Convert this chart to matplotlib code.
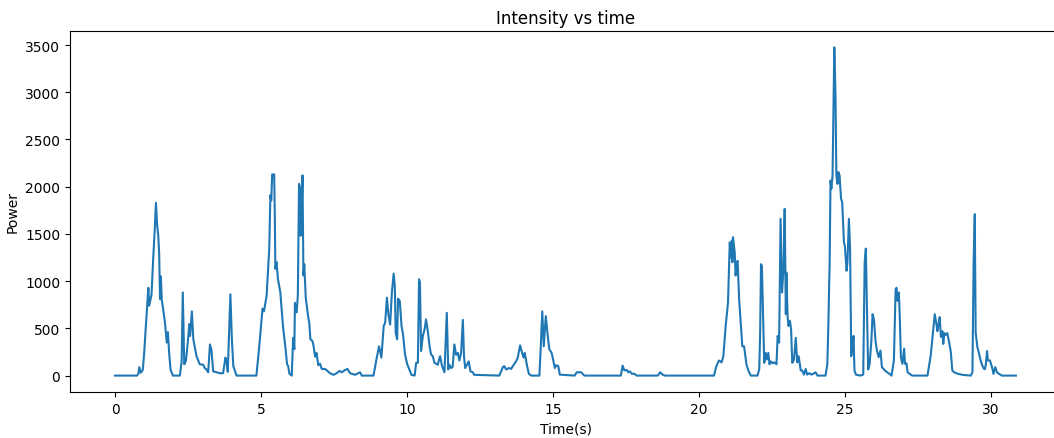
import matplotlib
matplotlib.use("Agg")
import matplotlib.pyplot as plt

time_s = [
    0.00, 0.75, 0.80, 0.83, 0.88, 0.95, 1.00, 1.05, 1.14, 1.17, 1.25, 1.30, 1.36, 1.40, 1.44, 1.48, 1.51,
    1.54, 1.57, 1.60, 1.65, 1.71, 1.77, 1.81, 1.85, 1.90, 1.98, 2.22, 2.28, 2.32, 2.37, 2.43, 2.51, 2.54,
    2.57, 2.63, 2.68, 2.79, 2.90, 3.02, 3.07, 3.13, 3.19, 3.25, 3.30, 3.36, 3.47, 3.59, 3.70, 3.78, 3.82,
    3.86, 3.95, 4.00, 4.05, 4.16, 4.84, 4.93, 5.05, 5.10, 5.19, 5.28, 5.32, 5.35, 5.38, 5.45, 5.47, 5.49,
    5.53, 5.58, 5.66, 5.75, 5.84, 5.89, 5.93, 5.97, 6.05, 6.10, 6.14, 6.16, 6.22, 6.26, 6.30, 6.34, 6.36,
    6.39, 6.42, 6.45, 6.48, 6.53, 6.61, 6.65, 6.69, 6.76, 6.80, 6.85, 6.90, 6.96, 7.02, 7.08, 7.19, 7.27,
    7.36, 7.48, 7.59, 7.68, 7.76, 7.88, 7.96, 8.05, 8.22, 8.39, 8.45, 8.85, 8.95, 9.04, 9.12, 9.20, 9.25,
    9.31, 9.36, 9.42, 9.48, 9.54, 9.58, 9.61, 9.66, 9.69, 9.75, 9.81, 9.86, 9.93, 10.00, 10.09, 10.15,
    10.26, 10.31, 10.37, 10.41, 10.44, 10.48, 10.54, 10.60, 10.65, 10.71, 10.77, 10.82, 10.88, 10.94,
    11.05, 11.13, 11.20, 11.28, 11.36, 11.41, 11.45, 11.51, 11.56, 11.62, 11.68, 11.74, 11.79, 11.85,
    11.91, 11.95, 11.99, 12.05, 12.11, 12.17, 12.25, 12.30, 13.16, 13.28, 13.33, 13.39, 13.50, 13.56,
    13.62, 13.73, 13.79, 13.87, 13.94, 13.99, 14.03, 14.11, 14.17, 14.25, 14.53, 14.57, 14.63, 14.68,
    14.75, 14.81, 14.87, 14.95, 15.00, 15.06, 15.11, 15.18, 15.23, 15.74, 15.81, 15.96, 16.07, 17.32,
    17.38, 17.44, 17.52, 17.57, 17.63, 17.70, 17.78, 17.86, 18.58, 18.67, 18.75, 18.83, 20.51, 20.59,
    20.68, 20.77, 20.83, 20.91, 20.99, 21.05, 21.09, 21.12, 21.14, 21.16, 21.22, 21.25, 21.29, 21.32,
    21.37, 21.43, 21.48, 21.54, 21.62, 21.69, 21.77, 22.00, 22.06, 22.09, 22.12, 22.15, 22.19, 22.23,
    22.28, 22.32, 22.37, 22.41, 22.46, 22.51, 22.57, 22.65, 22.69, 22.74, 22.79, 22.84, 22.89, 22.93,
    22.97, 22.99, 23.03, 23.06, 23.11, 23.15, 23.19, 23.25, 23.31, 23.36, 23.41, 23.48, 23.53, 23.59,
    23.65, 23.70, 23.78, 23.85, 23.93, 23.99, 24.05, 24.33, 24.39, 24.42, 24.47, 24.50, 24.53, 24.57,
    24.60, 24.63, 24.67, 24.70, 24.74, 24.77, 24.81, 24.86, 24.90, 24.96, 24.99, 25.05, 25.08, 25.13,
    25.17, 25.21, 25.24, 25.29, 25.32, 25.37, 25.51, 25.62, 25.67, 25.71, 25.75, 25.79, 25.84, 25.90,
    25.94, 25.99, 26.04, 26.09, 26.15, 26.21, 26.26, 26.36, 26.44, 26.52, 26.59, 26.67, 26.73, 26.76,
    26.80, 26.84, 26.87, 26.91, 26.96, 27.02, 27.05, 27.10, 27.14, 27.21, 27.30, 27.82, 27.93, 28.02,
    28.07, 28.13, 28.16, 28.21, 28.24, 28.28, 28.33, 28.36, 28.40, 28.44, 28.50, 28.56, 28.62, 28.67,
    28.73, 28.85, 29.02, 29.30, 29.36, 29.40, 29.44, 29.47, 29.53, 29.59, 29.64, 29.70, 29.76, 29.79,
    29.82, 29.86, 29.89, 29.96, 30.03, 30.08, 30.14, 30.20, 30.26, 30.37, 30.85,
]

power = [
    0, 0, 20, 90, 30, 60, 250, 500, 930, 740, 860, 1200, 1550, 1830, 1600, 1480, 1300,
    810, 1050, 800, 700, 560, 350, 460, 250, 65, 0, 0, 150, 880, 120, 160, 420, 545,
    420, 680, 385, 205, 120, 115, 80, 65, 35, 330, 275, 45, 35, 25, 25, 190, 140,
    40, 860, 385, 100, 0, 0, 280, 710, 680, 845, 1340, 1910, 1855, 2130, 2130, 1700, 1130,
    1200, 1020, 880, 525, 280, 120, 100, 20, 0, 400, 280, 770, 670, 850, 2030, 1980, 1480,
    1745, 2120, 1060, 1180, 825, 630, 560, 385, 365, 310, 200, 240, 110, 125, 70, 70, 50,
    25, 8, 25, 50, 35, 60, 70, 25, 8, 35, 0, 0, 170, 310, 190, 525, 560,
    825, 650, 540, 880, 1080, 950, 455, 385, 815, 790, 525, 440, 225, 125, 55, 8,
    0, 135, 135, 1020, 985, 260, 420, 490, 595, 470, 310, 225, 205, 135,
    115, 205, 100, 35, 665, 65, 115, 80, 90, 330, 220, 240, 160, 240,
    590, 200, 80, 115, 150, 45, 35, 8, 0, 90, 100, 65, 80, 70,
    100, 150, 190, 320, 240, 190, 240, 100, 20, 0, 0, 250, 680, 310,
    630, 440, 280, 240, 170, 80, 110, 100, 10, 0, 35, 35, 0, 0,
    105, 55, 60, 35, 45, 18, 20, 0, 0, 35, 10, 0, 0, 100,
    160, 140, 205, 525, 775, 1410, 1250, 1430, 1200, 1465, 1305, 1060, 1200, 1215,
    810, 540, 310, 310, 120, 50, 0, 0, 70, 455, 1180, 1160, 665, 135,
    240, 170, 240, 120, 150, 130, 140, 120, 420, 350, 1660, 880, 1130, 1765,
    650, 1090, 630, 525, 580, 490, 135, 170, 400, 140, 205, 55, 55, 10,
    70, 10, 25, 10, 25, 35, 0, 0, 120, 455, 1200, 2065, 1980, 2120,
    2800, 3475, 2970, 2120, 2030, 2155, 2120, 1875, 1835, 1410, 1375, 1110, 1200, 1660,
    1340, 205, 300, 420, 55, 10, 0, 10, 1200, 1345, 665, 65, 125, 370,
    650, 590, 370, 265, 195, 265, 90, 55, 35, 18, 0, 160, 915, 930,
    790, 880, 630, 195, 125, 285, 125, 130, 35, 18, 0, 0, 210, 490,
    650, 540, 470, 570, 620, 410, 470, 335, 450, 430, 450, 355, 250, 55,
    35, 20, 8, 0, 35, 1200, 1710, 455, 300, 230, 160, 105, 70, 70,
    125, 260, 160, 160, 90, 18, 90, 35, 20, 0, 0,
]

fig = plt.figure(figsize=(10.54, 4.39), dpi=100)
W, H = 1054.0, 439.0
ax = fig.add_axes([70 / W, (H - 393) / H, 991 / W, (393 - 32) / H])
ax.plot(time_s, power, color="#1f77b4", linewidth=1.5)
ax.set_title("Intensity vs time")
ax.set_xlabel("Time(s)")
ax.set_ylabel("Power")
fig.savefig("out.png", dpi=100)
